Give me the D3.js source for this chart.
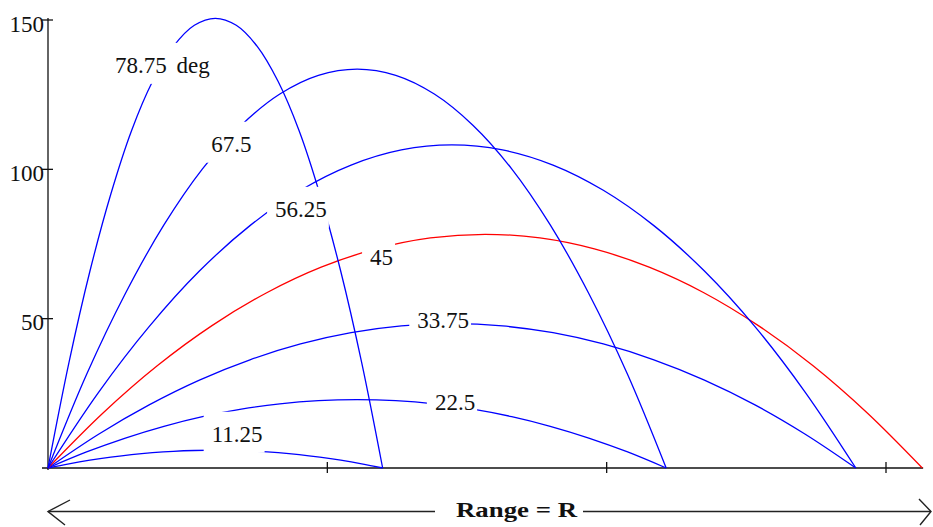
<!DOCTYPE html>
<html>
<head>
<meta charset="utf-8">
<script src="https://cdn.jsdelivr.net/npm/d3@7"></script>
<style>
  html, body { margin: 0; padding: 0; background: #fff; }
  svg { display: block; }
  text { font-family: "Liberation Serif", "Times New Roman", serif; }
</style>
</head>
<body>
<svg id="chart" width="933" height="527"></svg>
<script>
// ---------------- data ----------------
const angles = ["11.25", "22.5", "33.75", "45", "56.25", "67.5", "78.75"];

// horizontal sample positions (range units) for each landing group
const xShort = [0, 7.5, 15.0, 22.5, 29.9, 37.4, 44.9, 52.4, 59.9, 67.4, 74.9, 82.4, 89.9, 97.3, 104.8, 112.3, 119.8];
const xMid   = [0, 13.8, 27.7, 41.5, 55.3, 69.2, 83.0, 96.8, 110.7, 124.5, 138.3, 152.1, 166.0, 179.8, 193.6, 207.5, 221.3];
const xLong  = [0, 18.1, 36.2, 54.2, 72.3, 90.4, 108.5, 126.5, 144.6, 162.7, 180.8, 198.8, 216.9, 235.0, 253.1, 271.1, 289.2];
const x45    = [0, 19.6, 39.1, 58.7, 78.3, 97.8, 117.4, 136.9, 156.5, 176.1, 195.6, 215.2, 234.8, 254.3, 273.9, 293.4, 313.0];

// heights at those positions
const y1125 = [0, 1.40, 2.61, 3.63, 4.47, 5.12, 5.59, 5.86, 5.96, 5.86, 5.59, 5.12, 4.47, 3.63, 2.61, 1.40, 0];
const y2250 = [0, 5.37, 10.03, 13.96, 17.19, 19.69, 21.48, 22.56, 22.92, 22.56, 21.48, 19.69, 17.19, 13.96, 10.03, 5.37, 0];
const y3375 = [0, 11.32, 21.14, 29.44, 36.23, 41.52, 45.29, 47.56, 48.31, 47.56, 45.29, 41.52, 36.23, 29.44, 21.14, 11.32, 0];
const y4500 = [0, 18.34, 34.23, 47.68, 58.69, 67.25, 73.36, 77.03, 78.25, 77.03, 73.36, 67.25, 58.69, 47.68, 34.23, 18.34, 0];
const y5625 = [0, 25.36, 47.34, 65.94, 81.15, 92.99, 101.44, 106.51, 108.21, 106.51, 101.44, 92.99, 81.15, 65.94, 47.34, 25.36, 0];
const y6750 = [0, 31.30, 58.43, 81.39, 100.17, 114.78, 125.22, 131.48, 133.57, 131.48, 125.22, 114.78, 100.17, 81.39, 58.43, 31.30, 0];
const y7875 = [0, 35.29, 65.87, 91.75, 112.93, 129.39, 141.16, 148.22, 150.57, 148.22, 141.16, 129.39, 112.93, 91.75, 65.87, 35.29, 0];

const yTicks = [50, 100, 150];
const yTickLabels = ["50", "100", "150"];
const xTicks = [100, 200, 300];
const labelTexts = ["11.25", "22.5", "33.75", "45", "56.25", "67.5", "78.75 deg"];
const axisTitle = "Range = R";

// ---------------- layout ----------------
const svg = d3.select("#chart");
const x = d3.scaleLinear().domain([0, 300]).range([48, 886]);
const y = d3.scaleLinear().domain([0, 150]).range([468, 20]);

const series = [
  { angle: angles[0], xs: xShort, ys: y1125 },
  { angle: angles[1], xs: xMid,   ys: y2250 },
  { angle: angles[2], xs: xLong,  ys: y3375 },
  { angle: angles[3], xs: x45,    ys: y4500 },
  { angle: angles[4], xs: xLong,  ys: y5625 },
  { angle: angles[5], xs: xMid,   ys: y6750 },
  { angle: angles[6], xs: xShort, ys: y7875 }
];

// label anchors (data coords: left edge of text, baseline)
const labelPos = [
  [58.6, 8.8], [138.5, 19.4], [132.2, 46.8], [115.3, 68.0],
  [81.3, 84.1], [58.4, 105.9], [24.0, 132.3]
];

// ---------------- axes ----------------
const axisColor = "#111";
svg.append("line").attr("x1", x(0)).attr("x2", x(0))
  .attr("y1", 18).attr("y2", 470)
  .attr("stroke", axisColor).attr("stroke-width", 1.3);
svg.append("line").attr("x1", 42).attr("x2", x(313.3))
  .attr("y1", y(0)).attr("y2", y(0))
  .attr("stroke", axisColor).attr("stroke-width", 1.3);

svg.selectAll(".ytick").data(yTicks).enter().append("line")
  .attr("x1", 42).attr("x2", 53)
  .attr("y1", d => y(d)).attr("y2", d => y(d))
  .attr("stroke", axisColor).attr("stroke-width", 1.3);
svg.selectAll(".ylab").data(yTicks).enter().append("text")
  .attr("x", 44).attr("y", d => y(d) + 11.5)
  .attr("text-anchor", "end")
  .attr("font-size", 23).attr("fill", "#111")
  .text((d, i) => yTickLabels[i]);

svg.selectAll(".xtick").data(xTicks).enter().append("line")
  .attr("x1", d => x(d)).attr("x2", d => x(d))
  .attr("y1", y(0) - 6).attr("y2", y(0) + 5)
  .attr("stroke", axisColor).attr("stroke-width", 1.3);

// ---------------- curves ----------------
const line = d3.line()
  .x(d => x(d[0])).y(d => y(d[1]))
  .curve(d3.curveCatmullRom.alpha(0.5));

svg.selectAll(".traj").data(series).enter().append("path")
  .attr("d", s => line(s.xs.map((v, i) => [v, s.ys[i]])))
  .attr("fill", "none")
  .attr("stroke", s => s.angle === "45" ? "#ff0000" : "#0000ff")
  .attr("stroke-width", 1.3);

// ---------------- labels with white boxes ----------------
const lg = svg.append("g");
labelTexts.forEach((t, i) => {
  const px = x(labelPos[i][0]);
  const py = y(labelPos[i][1]);
  const g = lg.append("g");
  const rect = g.append("rect").attr("fill", "#fff");
  const txt = g.append("text")
    .attr("x", px).attr("y", py)
    .attr("font-size", 23).attr("fill", "#111")
    .attr("word-spacing", t.indexOf(" ") >= 0 ? 4 : 0)
    .text(t);
  const bb = txt.node().getBBox();
  rect.attr("x", bb.x - 8).attr("width", bb.width + 10)
      .attr("y", py - 30).attr("height", 41);
});

// ---------------- bottom range arrow ----------------
const ay = 511.5;
const ag = svg.append("g").attr("stroke", "#222").attr("stroke-width", 1.4).attr("fill", "none");
ag.append("line").attr("x1", x(0)).attr("x2", 435).attr("y1", ay).attr("y2", ay);
ag.append("line").attr("x1", 583).attr("x2", 931).attr("y1", ay).attr("y2", ay);
ag.append("path").attr("d", `M70,500 L${x(0)},${ay} L65,525`);
ag.append("path").attr("d", `M919,499 L931,${ay} L920,525`);

svg.append("text")
  .attr("x", 456).attr("y", 516.7)
  .attr("font-size", 22).attr("font-weight", "bold").attr("fill", "#111")
  .attr("textLength", 121).attr("lengthAdjust", "spacingAndGlyphs")
  .text(axisTitle);
</script>
</body>
</html>
